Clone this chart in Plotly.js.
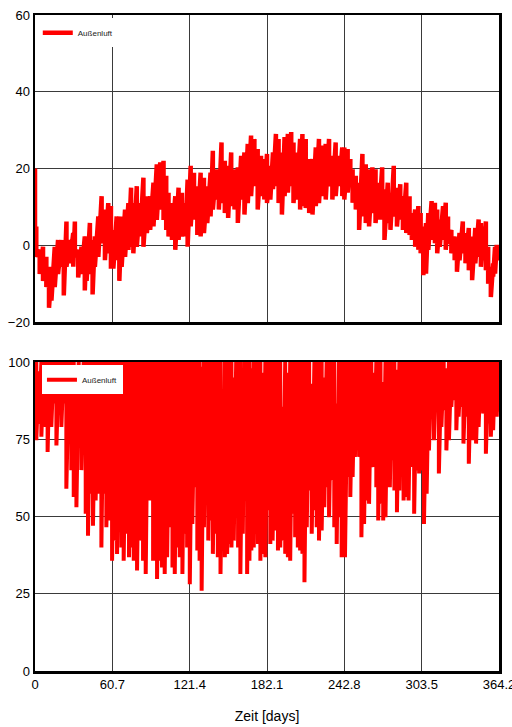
<!DOCTYPE html>
<html>
<head>
<meta charset="utf-8">
<script src="https://cdn.plot.ly/plotly-3.0.1.min.js"></script>
<style>
  html, body { margin: 0; padding: 0; background: #fff; }
  #chart { width: 512px; height: 727px; }
</style>
</head>
<body>
<div id="chart"></div>
<script>
// ---- Shared x axis (days) ----
const xTickVals = [0, 60.7, 121.4, 182.1, 242.8, 303.5, 364.2];
const xTickText = ['0', '60.7', '121.4', '182.1', '242.8', '303.5', '364.2'];

// ---- Top: Außenluft temperature (read as local high/low per ~2.5 days) ----
const tempDay = [
  0.0, 1.0, 3.7, 6.3, 8.9, 11.0, 12.9, 15.5, 18.1, 20.8,
  22.6, 24.7, 27.3, 30.0, 31.3, 33.9, 36.5, 39.1, 40.5, 43.1,
  45.2, 47.0, 49.7, 52.3, 54.9, 57.5, 59.6, 61.5, 64.1, 66.2,
  68.0, 70.7, 73.3, 75.4, 77.2, 79.9, 82.5, 85.1, 87.8, 90.4,
  93.0, 95.6, 98.3, 100.9, 103.0, 104.8, 107.5, 110.1, 112.7, 115.3,
  118.0, 119.8, 122.2, 124.8, 127.4, 130.0, 132.6, 135.2, 137.8, 139.6,
  142.2, 144.3, 146.4, 149.0, 151.6, 154.0, 156.6, 159.2, 161.8, 164.4,
  167.0, 169.6, 172.2, 174.8, 177.4, 180.0, 182.1, 184.7, 186.8, 189.1,
  191.2, 193.8, 195.9, 198.5, 201.1, 202.9, 205.5, 208.1, 209.9, 212.5,
  215.2, 217.8, 220.4, 222.9, 225.6, 228.2, 230.8, 233.4, 236.0, 238.6,
  241.2, 242.8, 245.4, 247.5, 249.3, 251.8, 254.4, 257.0, 259.6, 262.2,
  264.8, 267.3, 269.9, 272.5, 274.3, 276.9, 279.0, 281.6, 284.1, 286.7,
  288.8, 291.4, 294.0, 295.8, 298.4, 300.9, 302.7, 304.8, 306.9, 308.7,
  311.3, 313.9, 315.7, 317.7, 320.3, 322.4, 324.2, 326.8, 329.4, 331.2,
  333.2, 335.8, 337.9, 340.5, 343.1, 345.6, 348.2, 350.0, 351.8, 353.9,
  355.7, 357.8, 359.6, 361.1, 362.4, 364.0
];
const tempHigh = [
  20, 4.9, -1.2, -0.4, -3.0, -5.6, -7.4, -0.4, 1.4, 1.4,
  -1.2, 6.2, 1.4, 3.2, 6.2, -1.2, -0.4, 2.3, 2.3, 5.8,
  1.4, 2.3, 7.5, 12.8, 9.3, 11.0, 10.2, 4.0, 7.5, 7.5,
  7.5, 9.3, 11.0, 15.0, 11.0, 15.4, 11.0, 17.6, 12.8, 12.8,
  16.3, 21.1, 21.6, 22.0, 18.1, 13.7, 11.0, 12.8, 15.0, 13.7,
  11.0, 17.1, 20.7, 18.9, 15.4, 18.9, 17.6, 15.4, 18.9, 24.6,
  19.8, 18.1, 26.8, 22.0, 20.7, 24.2, 19.8, 20.3, 23.3, 24.2,
  26.4, 28.6, 27.7, 25.1, 23.3, 22.5, 23.8, 20.7, 24.2, 29.0,
  27.7, 24.2, 28.2, 29.0, 29.5, 26.8, 24.2, 27.7, 29.0, 27.7,
  22.5, 22.5, 25.5, 27.7, 26.0, 26.4, 27.7, 23.3, 26.8, 23.3,
  25.5, 25.5, 25.1, 22.5, 19.8, 18.1, 16.3, 23.8, 21.1, 19.8,
  20.3, 19.8, 16.3, 20.3, 14.6, 16.3, 13.7, 20.7, 15.0, 15.9,
  12.8, 16.3, 12.8, 8.4, 9.3, 10.2, 8.4, 4.9, 5.8, 8.4,
  11.5, 11.1, 9.3, 6.7, 10.2, 11.1, 7.5, 4.0, 2.3, 1.4,
  3.2, 6.2, 3.2, 4.5, 2.3, 4.5, 6.7, 5.8, 4.9, 6.2,
  -0.4, -5.6, -4.7, -0.4, 0.1, -0.5
];
const tempLow = [
  0, -3.0, -7.5, -9.3, -10.9, -16.3, -14.4, -10.9, -7.5, -5.6,
  -13.1, -5.6, -4.7, -5.6, -3.0, -8.4, -7.5, -11.8, -9.3, -7.5,
  -12.8, -5.6, -3.0, 0.5, -3.9, -2.1, -6.1, -6.1, -3.9, -9.3,
  -5.6, -3.0, -1.2, -0.4, -2.1, -0.4, 2.3, -0.4, 3.2, 4.0,
  4.9, 6.6, 9.3, 6.6, 4.0, 2.3, 1.4, -1.2, 1.4, 2.3,
  2.3, -0.4, 4.9, 6.7, 2.7, 2.3, 3.2, 5.8, 7.5, 9.3,
  11.9, 9.3, 11.0, 8.4, 7.1, 10.2, 9.3, 5.8, 11.9, 8.0,
  11.0, 12.8, 15.4, 9.3, 12.8, 11.9, 11.0, 11.9, 14.6, 15.4,
  11.0, 8.0, 12.8, 13.7, 15.4, 11.0, 11.9, 9.3, 10.2, 9.7,
  8.4, 8.0, 10.2, 11.0, 12.8, 11.9, 15.4, 11.9, 12.8, 15.4,
  12.8, 11.9, 13.7, 15.4, 11.1, 9.3, 4.0, 7.5, 5.8, 4.9,
  8.4, 5.8, 6.7, 6.7, 1.4, 5.8, 4.0, 7.5, 4.9, 6.7,
  4.0, 3.2, 2.7, 1.4, -0.4, -1.2, -2.1, -7.8, -7.4, -1.2,
  1.4, 0.5, -2.1, -0.4, 1.4, -1.2, 0.5, -2.1, -3.9, -6.9,
  -3.9, -2.1, -4.7, -6.5, -9.1, -4.7, -3.0, -5.6, -3.9, -6.5,
  -10.0, -13.5, -8.2, -7.4, -3.9, -4.0
];

// ---- Bottom: Außenluft relative humidity (read as local high/low per ~2 days) ----
const humDay = [
  0.0, 1.0, 3.1, 5.0, 6.8, 8.4, 9.9, 11.5, 12.8, 14.7,
  16.8, 18.8, 20.7, 22.5, 24.6, 26.7, 28.5, 30.4, 32.5, 34.3,
  36.4, 38.2, 39.8, 41.6, 43.5, 45.5, 47.6, 49.5, 52.1, 53.9,
  56.0, 58.6, 60.5, 62.6, 64.4, 66.5, 67.8, 69.6, 71.7, 73.8,
  75.7, 77.5, 80.1, 82.2, 84.8, 86.9, 88.7, 90.6, 92.7, 95.8,
  97.9, 99.7, 101.8, 103.7, 105.8, 107.9, 109.7, 111.5, 113.6, 115.7,
  117.5, 119.4, 121.5, 123.5, 125.6, 127.4, 129.2, 130.8, 132.6, 134.4,
  136.0, 137.8, 139.6, 141.7, 143.5, 145.6, 147.4, 149.0, 150.8, 152.7,
  154.2, 156.0, 157.9, 159.4, 161.2, 163.1, 164.4, 166.5, 168.3, 169.8,
  171.7, 173.5, 175.0, 176.9, 178.7, 180.8, 182.9, 184.7, 186.5, 188.6,
  190.7, 192.5, 194.3, 196.4, 198.5, 200.3, 202.1, 204.2, 206.3, 208.1,
  209.9, 211.5, 213.3, 215.2, 217.2, 219.3, 221.1, 222.9, 225.0, 227.1,
  228.9, 230.8, 232.9, 234.9, 236.8, 238.6, 240.7, 243.3, 245.4, 247.5,
  249.3, 251.1, 253.1, 254.4, 256.2, 258.3, 260.1, 262.2, 264.0, 266.1,
  267.9, 269.4, 271.2, 273.3, 275.1, 276.9, 278.5, 280.3, 282.1, 284.1,
  286.0, 287.5, 289.3, 291.1, 293.2, 295.0, 296.5, 297.6, 299.6, 301.5,
  303.5, 305.3, 307.4, 309.2, 311.3, 313.1, 315.2, 317.0, 319.0, 320.8,
  322.9, 324.9, 326.8, 328.6, 330.7, 332.5, 334.5, 336.3, 338.4, 340.5,
  342.3, 344.1, 346.2, 348.2, 350.0, 351.8, 353.9, 356.0, 357.8, 359.6,
  361.1, 362.4, 364.0
];
const humHigh = [
  100, 100, 97, 100, 100, 100, 100, 100, 100, 100,
  100, 100, 100, 100, 100, 100, 100, 100, 98, 100,
  98, 100, 100, 100, 100, 100, 100, 100, 100, 100,
  100, 100, 100, 100, 100, 100, 100, 100, 100, 100,
  100, 100, 100, 100, 100, 100, 100, 100, 100, 100,
  100, 100, 100, 100, 100, 100, 100, 100, 100, 100,
  100, 100, 100, 100, 100, 100, 100, 98.5, 100, 100,
  100, 100, 100, 100, 100, 100, 86.6, 100, 100, 100,
  100, 95, 100, 100, 100, 97.4, 100, 100, 100, 98,
  100, 100, 100, 100, 96.5, 100, 100, 100, 100, 100,
  100, 100, 85.5, 100, 96.5, 100, 100, 100, 100, 100,
  100, 100, 100, 100, 93, 100, 100, 100, 100, 95,
  100, 100, 100, 100, 86.6, 100, 100, 100, 100, 100,
  100, 100, 100, 93, 100, 100, 100, 100, 100, 96.5,
  100, 100, 100, 93.5, 100, 100, 100, 100, 100, 97.5,
  100, 100, 100, 100, 100, 100, 100, 92, 100, 100,
  100, 100, 100, 100, 100, 100, 100, 100, 100, 100,
  98, 100, 100, 100, 100, 100, 100, 100, 100, 100,
  100, 100, 100, 100, 100, 100, 100, 100, 100, 100,
  100, 100, 100
];
const humLow = [
  78, 74.7, 80, 75.8, 84.4, 79, 70.9, 85.5, 79, 86.6,
  73, 88.7, 79, 86.6, 59, 79, 65, 56.3, 53, 72.5,
  65, 73.6, 50.9, 43.8, 57.4, 47, 55.2, 57.4, 40, 57.4,
  46.5, 48.7, 35.7, 42.2, 37.9, 46.5, 40, 35.7, 44.4, 36.8,
  40, 35.7, 32.5, 42.2, 35.7, 31.4, 57.4, 55.2, 35.7, 29.8,
  35.7, 33.5, 31.4, 36.8, 46.5, 33.5, 31.4, 40, 36.8, 31.4,
  44.4, 40, 28.1, 47.6, 59.5, 39, 35.7, 26, 46.5, 59.5,
  42.2, 48.7, 37.9, 44.4, 36.8, 31.4, 40, 36.8, 37.9, 41.1,
  40, 42.2, 63.9, 40, 31.4, 44.4, 66, 31.4, 35.7, 39,
  40, 44.4, 41.1, 35.7, 37.9, 36.8, 52, 41.1, 42.2, 45.5,
  39, 40, 42.2, 37.9, 36.8, 35.7, 50.9, 43.3, 40, 39,
  37.9, 28.7, 46.5, 58.4, 44.4, 52, 46.5, 42.2, 45.5, 53,
  59.5, 49.8, 61.7, 46.5, 41.1, 49.8, 36.8, 36.8, 62.8, 56.3,
  62.8, 69.3, 81.2, 69.3, 43.3, 47.6, 55.2, 54.1, 66, 66,
  59.5, 48.7, 54.1, 48.7, 49.8, 59.5, 59.5, 68.2, 58.4, 51.4,
  58.4, 63.9, 55.2, 56.3, 55.2, 66, 67.1, 50.9, 64.9, 63.9,
  64.9, 47.6, 57.4, 71.4, 82.3, 74.7, 86.6, 63.9, 79, 84.4,
  71.4, 74.7, 85.5, 87.7, 77.9, 82.3, 85.5, 73.6, 82.3, 67.1,
  79, 74.7, 73.6, 79, 85.5, 83.3, 70.3, 80.1, 75.8, 77.9,
  89.8, 82.3, 84
];

const seriesName = 'Außenluft';
const RED = '#ff0000';

// Build zig-zag traces (high then low for each read day)
function zig(days, hi, lo) {
  const x = [], y = [];
  days.forEach((d, i) => { x.push(d, d); y.push(hi[i], lo[i]); });
  return { x, y };
}
const t = zig(tempDay, tempHigh, tempLow);
const h = zig(humDay, humHigh, humLow);

const traces = [
  { x: t.x, y: t.y, xaxis: 'x2', yaxis: 'y2', type: 'scatter', mode: 'lines',
    name: seriesName, legend: 'legend',
    line: { color: RED, width: 4.5, simplify: false } },
  { x: h.x, y: h.y, xaxis: 'x', yaxis: 'y', type: 'scatter', mode: 'lines',
    name: seriesName, legend: 'legend2',
    line: { color: RED, width: 4, simplify: false } }
];

const FONT = 'Liberation Sans, Arial, sans-serif';
const axisCommon = {
  showline: true, mirror: true, linecolor: '#000', linewidth: 2.5,
  showgrid: true, gridcolor: '#3a3a3a', gridwidth: 1,
  zeroline: false, ticks: '', ticklabeloverflow: 'allow',
  tickfont: { family: FONT, size: 13, color: '#000' }
};

const layout = {
  width: 512, height: 727,
  margin: { l: 35, r: 13, t: 15, b: 56 },
  paper_bgcolor: '#fff', plot_bgcolor: '#fff',
  showlegend: true,
  xaxis: Object.assign({}, axisCommon, {
    domain: [0, 1], anchor: 'y', range: [0, 364.2],
    tickmode: 'array', tickvals: xTickVals, ticktext: xTickText,
    title: { text: 'Zeit [days]', font: { family: FONT, size: 14, color: '#000' }, standoff: 20 }
  }),
  yaxis: Object.assign({}, axisCommon, {
    domain: [0, 0.471], anchor: 'x', range: [0, 100],
    tickmode: 'array', tickvals: [0, 25, 50, 75, 100]
  }),
  xaxis2: Object.assign({}, axisCommon, {
    domain: [0, 1], anchor: 'y2', range: [0, 364.2], matches: 'x',
    tickmode: 'array', tickvals: xTickVals, showticklabels: false
  }),
  yaxis2: Object.assign({}, axisCommon, {
    domain: [0.532, 1], anchor: 'x2', range: [-20, 60],
    tickmode: 'array', tickvals: [-20, 0, 20, 40, 60]
  }),
  legend: {
    x: 0.006, y: 0.995, xanchor: 'left', yanchor: 'top',
    bgcolor: '#fff', borderwidth: 0,
    font: { family: FONT, size: 8, color: '#222' }
  },
  legend2: {
    x: 0.015, y: 0.466, xanchor: 'left', yanchor: 'top',
    bgcolor: '#fff', borderwidth: 0,
    font: { family: FONT, size: 8, color: '#222' }
  }
};

Plotly.newPlot('chart', traces, layout, { displayModeBar: false, staticPlot: true });
</script>
</body>
</html>
